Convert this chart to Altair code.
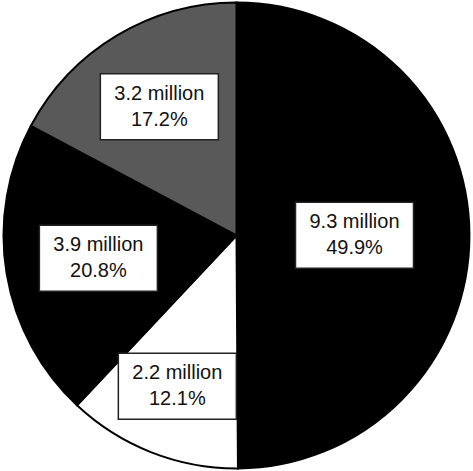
import altair as alt
import pandas as pd

# Data
amounts = ["9.3 million", "2.2 million", "3.9 million", "3.2 million"]
shares = [49.9, 12.1, 20.8, 17.2]
share_labels = ["49.9%", "12.1%", "20.8%", "17.2%"]

# Styling / layout (not data)
fills = ["#000000", "#ffffff", "#000000", "#595959"]
label_radius = [118, 162, 140, 150]

W, H = 473, 471
CX, CY = W / 2, H / 2
R = 233
BOX_W, BOX_H = 118, 66

df = pd.DataFrame({
    "order": list(range(len(shares))),
    "amount": amounts,
    "share": shares,
    "pct": share_labels,
    "fill": fills,
    "lr": label_radius,
})

base = alt.Chart(df)

pie = base.mark_arc(outerRadius=R, stroke="black", strokeWidth=2).encode(
    theta=alt.Theta("share:Q", stack=True),
    order=alt.Order("order:Q"),
    color=alt.Color("fill:N", scale=None),
)

labels_base = base.transform_window(
    cum="sum(share)", sort=[alt.SortField("order")], frame=[None, 0]
).transform_calculate(
    ang="(datum.cum - datum.share / 2) / 100 * 2 * PI",
).transform_calculate(
    lx=f"{CX} + datum.lr * sin(datum.ang)",
    ly=f"{CY} - datum.lr * cos(datum.ang)",
).transform_calculate(
    x0=f"datum.lx - {BOX_W / 2}",
    x1=f"datum.lx + {BOX_W / 2}",
    y0=f"datum.ly - {BOX_H / 2}",
    y1=f"datum.ly + {BOX_H / 2}",
    txt="datum.amount + '\\n' + datum.pct",
)

boxes = labels_base.mark_rect(fill="white", stroke="#222222", strokeWidth=1.5).encode(
    x=alt.X("x0:Q", scale=None),
    x2="x1:Q",
    y=alt.Y("y0:Q", scale=None),
    y2="y1:Q",
)

texts = labels_base.mark_text(
    font="Liberation Sans", fontSize=20, lineBreak="\n", lineHeight=26,
    align="center", baseline="middle", color="#111111", dy=-13,
).encode(
    x=alt.X("lx:Q", scale=None),
    y=alt.Y("ly:Q", scale=None),
    text="txt:N",
)

chart = alt.layer(pie, boxes, texts).properties(
    width=W, height=H, autosize="none", padding=0,
).configure_view(stroke=None)

chart.save("out.html", embed_options={"renderer": "svg", "actions": False})
